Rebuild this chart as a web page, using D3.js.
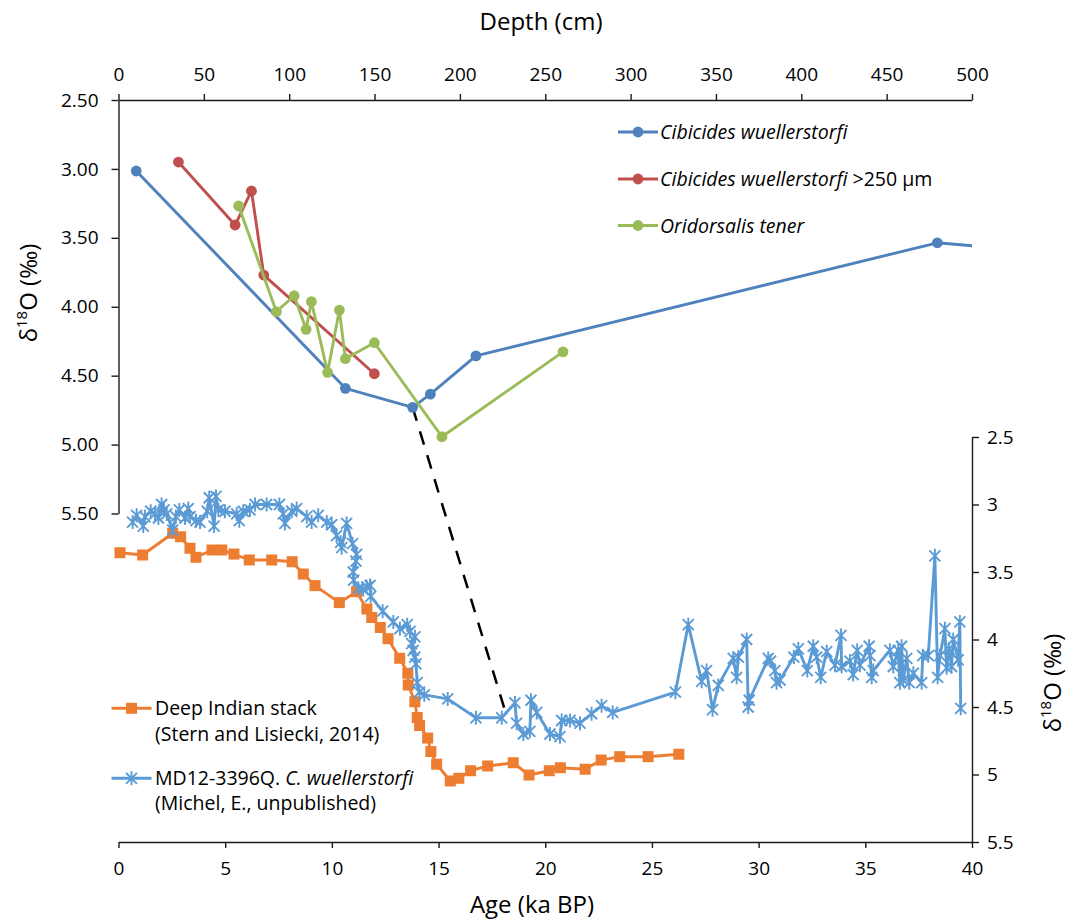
<!DOCTYPE html>
<html>
<head>
<meta charset="utf-8">
<script src="https://cdn.jsdelivr.net/npm/d3@7"></script>
<style>
  body { margin: 0; background: #fff; }
  svg text { font-family: "Open Sans", "Noto Sans", sans-serif; fill: #000; }
</style>
</head>
<body>
<svg id="chart" width="1078" height="921"></svg>
<script>
// ---- Core data: depth (cm) vs δ18O (‰), upper panel ----
const cwDepth  = [10.4, 132.9, 172.3, 182.7, 209.4, 479.7, 520];
const cwD18O   = [3.015, 4.592, 4.73, 4.634, 4.356, 3.536, 3.578];

const cwLgDepth = [35.1, 68.3, 77.9, 85.1, 149.9];
const cwLgD18O  = [2.95, 3.407, 3.16, 3.77, 4.486];

const otDepth = [70.4, 92.5, 102.9, 109.9, 113.0, 122.5, 129.4, 132.9, 149.9, 189.5, 260.4];
const otD18O  = [3.269, 4.036, 3.92, 4.164, 3.963, 4.476, 4.024, 4.377, 4.261, 4.943, 4.327];

// ---- Reference records: age (ka BP) vs δ18O (‰), lower panel ----
const stackAge = [0.07, 1.13, 2.54, 2.91, 3.35, 3.63, 4.38, 4.84, 5.41, 6.13, 7.18, 8.14, 8.66, 9.21,
  10.35, 11.16, 11.64, 11.87, 12.27, 12.63, 13.18, 13.56, 13.58, 13.89, 14.0, 14.11, 14.49, 14.64,
  14.91, 15.55, 15.95, 16.50, 17.30, 18.50, 19.24, 20.19, 20.71, 21.87, 22.62, 23.49, 24.82, 26.26];
const stackD18O = [3.357, 3.374, 3.213, 3.239, 3.324, 3.391, 3.337, 3.337, 3.367, 3.411, 3.411, 3.424, 3.515, 3.601,
  3.727, 3.646, 3.774, 3.837, 3.911, 3.994, 4.139, 4.25, 4.337, 4.461, 4.578, 4.637, 4.73, 4.83,
  4.924, 5.048, 5.028, 4.972, 4.937, 4.913, 5.004, 4.972, 4.95, 4.961, 4.893, 4.868, 4.868, 4.85];

const mdAge = [0.66, 0.85, 1.16, 1.24, 1.51, 1.71, 1.87, 2.02, 2.13, 2.26, 2.54, 2.69, 2.85, 3.12, 3.27, 3.35,
  3.63, 3.82, 4.16, 4.25, 4.48, 4.57, 4.68, 4.99, 5.54, 5.66, 5.85, 6.16, 6.40, 6.94, 7.54, 7.72, 7.80,
  8.12, 8.35, 8.82, 9.05, 9.36, 9.76, 9.99, 10.22, 10.41, 10.46, 10.69, 10.97, 11.16, 11.13, 11.0, 11.02,
  11.24, 11.47, 11.63, 11.79, 11.82, 12.38, 12.88, 13.19, 13.53, 13.66, 13.89, 13.74, 13.81, 13.89, 13.94,
  14.0, 14.1, 14.33, 15.43, 16.75, 17.96, 18.58, 18.66, 18.97, 19.28, 19.33, 19.60, 20.22, 20.69, 20.77,
  21.16, 21.63, 22.17, 22.64, 23.16, 26.10, 26.70, 27.33, 27.56, 27.84, 28.11, 28.81, 28.97, 29.05, 29.44,
  29.51, 29.56, 30.45, 30.56, 30.76, 30.84, 31.00, 31.65, 31.86, 32.28, 32.56, 32.72, 32.91, 33.19, 33.58,
  33.86, 33.89, 34.28, 34.43, 34.62, 34.75, 35.18, 35.22, 35.30, 35.37, 36.15, 36.31, 36.54, 36.62, 36.70,
  36.78, 36.94, 37.06, 37.25, 37.64, 37.69, 37.95, 38.26, 38.39, 38.50, 38.73, 38.81, 38.93, 39.04, 39.12,
  39.35, 39.43, 39.47];
const mdD18O = [3.13, 3.08, 3.16, 3.09, 3.05, 3.07, 3.10, 3.00, 3.04, 3.07, 3.19, 3.09, 3.04, 3.10, 3.03, 3.09,
  3.12, 3.13, 3.05, 2.95, 3.16, 2.94, 3.04, 3.05, 3.07, 3.12, 3.05, 3.04, 3.00, 3.00, 3.00, 3.07, 3.14,
  3.05, 3.03, 3.09, 3.13, 3.08, 3.13, 3.15, 3.23, 3.28, 3.32, 3.14, 3.29, 3.37, 3.42, 3.50, 3.56,
  3.62, 3.63, 3.61, 3.60, 3.68, 3.79, 3.87, 3.92, 3.89, 3.94, 3.98, 4.03, 4.08, 4.13, 4.18,
  4.32, 4.39, 4.41, 4.44, 4.58, 4.58, 4.47, 4.62, 4.70, 4.68, 4.45, 4.54, 4.70, 4.72, 4.60,
  4.60, 4.62, 4.55, 4.49, 4.54, 4.39, 3.89, 4.31, 4.23, 4.52, 4.34, 4.14, 4.28, 4.13, 4.00,
  4.50, 4.45, 4.14, 4.16, 4.23, 4.32, 4.30, 4.13, 4.07, 4.23, 4.05, 4.13, 4.28, 4.09, 4.19,
  3.97, 4.20, 4.16, 4.26, 4.08, 4.19, 4.05, 4.12, 4.28, 4.23, 4.08, 4.20, 4.08, 4.32, 4.05,
  4.30, 4.14, 4.32, 4.25, 4.32, 4.12, 4.12, 3.38, 4.28, 4.12, 3.92, 4.21, 4.07, 4.20, 4.00,
  4.15, 3.87, 4.51];

// Tie line between the core's deglacial minimum and the reference record
const tieFrom = { depth: 172.3, d18o: 4.73 };
const tieTo   = { age: 18.13, d18o: 4.535 };

// Axis tick values
const depthTicks = d3.range(0, 501, 50);
const leftTicks  = [2.5, 3.0, 3.5, 4.0, 4.5, 5.0, 5.5];
const ageTicks   = d3.range(0, 41, 5);
const rightTicks = [2.5, 3, 3.5, 4, 4.5, 5, 5.5];

// ---- Colours ----
const C_CW = "#4F81BD", C_CWL = "#C0504D", C_OT = "#9BBB59";
const C_STACK = "#ED7D31", C_MD = "#5B9BD5";

const svg = d3.select("#chart");

// ---- Scales ----
const xDepth = d3.scaleLinear([0, 500], [118.5, 972]);
const yLeft  = d3.scaleLinear([2.5, 5.5], [100, 513.5]);
const xAge   = d3.scaleLinear([0, 40], [118.5, 972]);
const yRight = d3.scaleLinear([2.5, 5.5], [437, 842]);

svg.append("defs").append("clipPath").attr("id", "plotClip")
  .append("rect").attr("x", 110).attr("y", 90).attr("width", 862).attr("height", 770);

// ---- Axes ----
function styleAxis(g, size) {
  g.select(".domain").attr("stroke", "#1a1a1a").attr("stroke-width", 1.4);
  g.selectAll(".tick line").attr("stroke", "#1a1a1a").attr("stroke-width", 1.4);
  g.selectAll(".tick text").style("font-size", size + "px").attr("fill", "#000");
}

svg.append("g").attr("transform", "translate(0,100)")
  .call(d3.axisTop(xDepth).tickValues(depthTicks).tickSize(6).tickSizeOuter(0).tickPadding(13))
  .call(g => styleAxis(g, 19));

svg.append("g").attr("transform", "translate(118.5,0)")
  .call(d3.axisLeft(yLeft).tickValues(leftTicks).tickFormat(d3.format(".2f")).tickSize(7).tickSizeOuter(0).tickPadding(13))
  .call(g => styleAxis(g, 19));

svg.append("g").attr("transform", "translate(0,842)")
  .call(d3.axisBottom(xAge).tickValues(ageTicks).tickSize(6).tickSizeOuter(0).tickPadding(14))
  .call(g => styleAxis(g, 19));

svg.append("g").attr("transform", "translate(972,0)")
  .call(d3.axisRight(yRight).tickValues(rightTicks).tickFormat(d => String(d)).tickSize(7).tickSizeOuter(0).tickPadding(8))
  .call(g => styleAxis(g, 19));

// ---- Axis titles ----
svg.append("text").attr("x", 541).attr("y", 30).attr("text-anchor", "middle")
  .style("font-size", "24px").text("Depth (cm)");
svg.append("text").attr("x", 532).attr("y", 913).attr("text-anchor", "middle")
  .style("font-size", "24px").text("Age (ka BP)");

function deltaTitle(x, y) {
  const t = svg.append("text").attr("transform", `translate(${x},${y}) rotate(-90)`)
    .attr("text-anchor", "middle").style("font-size", "24px");
  t.append("tspan").text("δ");
  t.append("tspan").attr("dy", -10).style("font-size", "15px").text("18");
  t.append("tspan").attr("dy", 10).text("O (‰)");
}
deltaTitle(37, 293);
deltaTitle(1061, 683);

// ---- Tie line ----
svg.append("line")
  .attr("x1", xDepth(tieFrom.depth)).attr("y1", yLeft(tieFrom.d18o))
  .attr("x2", xAge(tieTo.age)).attr("y2", yRight(tieTo.d18o))
  .attr("stroke", "#000").attr("stroke-width", 2.5).attr("stroke-dasharray", "14,11");

// ---- Plotted series ----
const plot = svg.append("g").attr("clip-path", "url(#plotClip)");

function lineSeries(xs, ys, xs_, ys_, color) {
  const pts = d3.zip(xs, ys);
  plot.append("path").datum(pts)
    .attr("fill", "none").attr("stroke", color).attr("stroke-width", 2.9)
    .attr("stroke-linejoin", "round")
    .attr("d", d3.line().x(d => xs_(d[0])).y(d => ys_(d[1])));
  return pts;
}

const starPath = "M-5.5,-5.5L5.5,5.5M-5.5,5.5L5.5,-5.5M0,-7L0,7";

// Lower panel
const stackPts = lineSeries(stackAge, stackD18O, xAge, yRight, C_STACK);
plot.append("g").selectAll("rect").data(stackPts).join("rect")
  .attr("x", d => xAge(d[0]) - 5.5).attr("y", d => yRight(d[1]) - 5.5)
  .attr("width", 11).attr("height", 11).attr("fill", C_STACK);

const mdPts = lineSeries(mdAge, mdD18O, xAge, yRight, C_MD);
plot.append("g").selectAll("path").data(mdPts).join("path")
  .attr("transform", d => `translate(${xAge(d[0])},${yRight(d[1])})`)
  .attr("d", starPath).attr("stroke", C_MD).attr("stroke-width", 1.9).attr("fill", "none");

// Upper panel
function circleSeries(xs, ys, color) {
  const pts = lineSeries(xs, ys, xDepth, yLeft, color);
  plot.append("g").selectAll("circle").data(pts).join("circle")
    .attr("cx", d => xDepth(d[0])).attr("cy", d => yLeft(d[1])).attr("r", 5.4).attr("fill", color);
}
circleSeries(cwDepth, cwD18O, C_CW);
circleSeries(cwLgDepth, cwLgD18O, C_CWL);
circleSeries(otDepth, otD18O, C_OT);

// ---- Legends ----
function legendSwatch(x, y, color, marker) {
  svg.append("line").attr("x1", x).attr("x2", x + 40).attr("y1", y).attr("y2", y)
    .attr("stroke", color).attr("stroke-width", 2.9);
  if (marker === "circle") {
    svg.append("circle").attr("cx", x + 20).attr("cy", y).attr("r", 5.4).attr("fill", color);
  } else if (marker === "square") {
    svg.append("rect").attr("x", x + 14.5).attr("y", y - 5.5).attr("width", 11).attr("height", 11).attr("fill", color);
  } else {
    svg.append("path").attr("transform", `translate(${x + 20},${y})`).attr("d", starPath)
      .attr("stroke", color).attr("stroke-width", 1.9).attr("fill", "none");
  }
}

const topLegend = [
  { y: 132, color: C_CW, parts: [["Cibicides wuellerstorfi", true]] },
  { y: 179, color: C_CWL, parts: [["Cibicides wuellerstorfi", true], [" >250 μm", false]] },
  { y: 225.5, color: C_OT, parts: [["Oridorsalis tener", true]] }
];
topLegend.forEach(e => {
  legendSwatch(618, e.y, e.color, "circle");
  const t = svg.append("text").attr("x", 660).attr("y", e.y + 7).style("font-size", "19.5px");
  e.parts.forEach(([s, it]) => t.append("tspan").style("font-style", it ? "italic" : "normal").text(s));
});

legendSwatch(111.5, 708.3, C_STACK, "square");
svg.append("text").attr("x", 155).attr("y", 714.5).style("font-size", "19.5px").text("Deep Indian stack");
svg.append("text").attr("x", 155).attr("y", 741).style("font-size", "19.5px").text("(Stern and Lisiecki, 2014)");

legendSwatch(111.5, 778.3, C_MD, "star");
const mdText = svg.append("text").attr("x", 155).attr("y", 784.5).style("font-size", "19.5px");
mdText.append("tspan").text("MD12-3396Q. ");
mdText.append("tspan").style("font-style", "italic").text("C. wuellerstorfi");
svg.append("text").attr("x", 155).attr("y", 809.5).style("font-size", "19.5px").text("(Michel, E., unpublished)");
</script>
</body>
</html>
